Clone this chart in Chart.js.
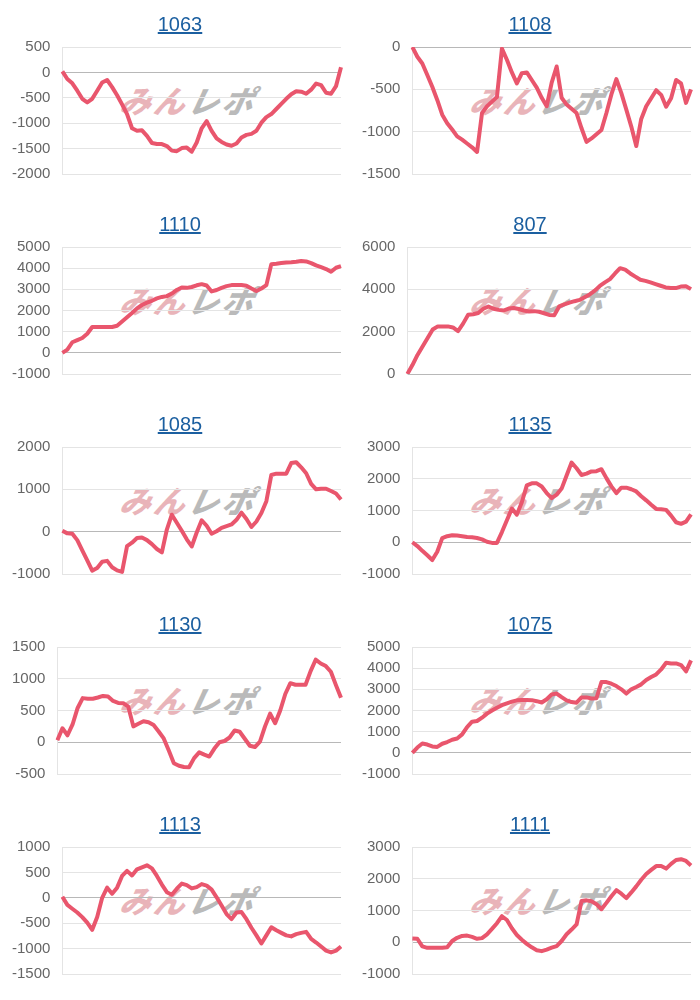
<!DOCTYPE html>
<html>
<head>
<meta charset="utf-8">
<script src="https://cdn.jsdelivr.net/npm/chart.js@4"></script>
<style>
    body { margin: 0; background: #fff; font-family: "Liberation Sans", Arial, sans-serif; }
    #grid { width: 700px; display: grid; grid-template-columns: 350px 350px; }
    .cell { position: relative; width: 350px; height: 200px; }
    .ttl {
        position: absolute; top: 13px; left: 5px; width: 350px; text-align: center; z-index: 2;
        font-size: 20px; line-height: 23px; color: #1b5fa0; text-decoration: underline;
    }
    .wm {
        position: absolute; left: 121px; top: 82px; white-space: nowrap;
        font-family: "Noto Sans CJK JP", sans-serif; font-weight: 900; font-style: italic;
        font-size: 31px; letter-spacing: 3px; line-height: 36px;
        transform: skewX(-12deg);
    }
    .wm .p { color: #e9b4b9; }
    .wm .g { color: #bababa; }
    .box { position: absolute; left: 0; top: 26px; width: 350px; height: 169px; }
</style>
</head>
<body>
<div id="grid"></div>

<script>
let titles = ["1063", "1108", "1110", "807", "1085", "1135", "1130", "1075", "1113", "1111"];
let yMin = [-2000, -1500, -1000, 0, -1000, -1000, -500, -1000, -1500, -1000];
let yMax = [500, 0, 5000, 6000, 2000, 3000, 1500, 5000, 1000, 3000];
let yStep = [500, 500, 1000, 2000, 1000, 1000, 500, 1000, 500, 1000];

let s1063 = [20, -130, -215, -360, -520, -590, -520, -360, -200, -150, -290, -450, -630, -820, -1100, -1150, -1140, -1250, -1390, -1410,
    -1410, -1450, -1540, -1550, -1490, -1480, -1560, -1380, -1100, -960, -1150, -1300, -1370, -1420, -1445, -1400, -1280, -1230, -1210, -1150,
    -990, -880, -820, -720, -620, -520, -430, -370, -380, -420, -340, -220, -250, -400, -420, -270, 100];
let s1108 = [0, -115, -195, -330, -470, -625, -800, -900, -975, -1055, -1095, -1140, -1185, -1240, -780, -700, -645, -590, -20, -150,
    -300, -430, -310, -300, -390, -480, -600, -700, -420, -230, -600, -680, -730, -780, -960, -1120, -1080, -1030, -980, -780,
    -560, -380, -545, -740, -940, -1170, -850, -700, -605, -510, -565, -705, -605, -390, -430, -660, -500];
let s1110 = [0, 150, 500, 600, 700, 900, 1220, 1220, 1220, 1220, 1220, 1280, 1480, 1680, 1880, 2100, 2260, 2370, 2460, 2570,
    2640, 2680, 2800, 2970, 3090, 3070, 3110, 3190, 3245, 3180, 2900, 2970, 3070, 3150, 3200, 3200, 3200, 3170, 3040, 2920,
    3040, 3200, 4190, 4210, 4240, 4270, 4280, 4300, 4340, 4320, 4240, 4130, 4050, 3960, 3830, 4020, 4100];
let s807 = [0, 420, 900, 1300, 1700, 2100, 2250, 2250, 2250, 2200, 2030, 2380, 2800, 2820, 2880, 3080, 3190, 3080, 3030, 3000,
    3090, 3120, 3070, 3000, 2950, 2970, 2940, 2870, 2790, 2780, 3200, 3290, 3370, 3440, 3500, 3630, 3760, 3940, 4160, 4330,
    4480, 4750, 5000, 4930, 4750, 4600, 4450, 4400, 4330, 4250, 4170, 4090, 4060, 4060, 4130, 4150, 4010];
let s1085 = [20, -40, -50, -200, -440, -680, -920, -860, -710, -690, -840, -915, -950, -340, -260, -150, -140, -200, -295, -410,
    -490, 50, 400, 210, 20, -180, -350, -20, 270, 140, -50, 10, 90, 130, 170, 280, 450, 300, 110, 240,
    440, 720, 1340, 1370, 1370, 1370, 1620, 1640, 1520, 1380, 1130, 1000, 1015, 1015, 960, 900, 760];
let s1135 = [0, -120, -270, -410, -560, -300, 130, 190, 220, 210, 190, 165, 155, 135, 90, 15, -20, -20, 320, 690,
    1060, 870, 1260, 1790, 1855, 1855, 1755, 1550, 1390, 1500, 1690, 2100, 2510, 2330, 2120, 2160, 2230, 2240, 2300, 2020,
    1760, 1550, 1720, 1720, 1670, 1600, 1450, 1320, 1180, 1050, 1040, 1020, 840, 630, 580, 650, 880];
let s1130 = [30, 220, 110, 280, 540, 695, 685, 685, 705, 730, 720, 650, 620, 615, 560, 250, 290, 330, 315, 270,
    170, 60, -130, -330, -370, -390, -395, -250, -160, -195, -225, -100, 0, 20, 75, 185, 165, 55, -55, -75,
    10, 250, 450, 300, 500, 760, 930, 905, 905, 905, 1120, 1300, 1240, 1200, 1110, 900, 700];
let s1075 = [0, 250, 440, 390, 300, 280, 430, 510, 620, 680, 870, 1220, 1470, 1505, 1660, 1850, 2000, 2130, 2250, 2340,
    2420, 2480, 2495, 2495, 2490, 2440, 2380, 2530, 2760, 2800, 2630, 2480, 2400, 2370, 2620, 2620, 2570, 2580, 3345, 3345,
    3265, 3155, 3000, 2800, 3000, 3110, 3235, 3440, 3580, 3705, 3940, 4255, 4225, 4225, 4145, 3850, 4370];
let s1113 = [20, -140, -215, -290, -380, -490, -630, -380, 0, 200, 80, 200, 430, 530, 440, 560, 600, 640, 580, 430,
    260, 110, 60, 180, 280, 250, 185, 210, 270, 240, 160, 10, -150, -320, -420, -290, -280, -420, -590, -740,
    -900, -740, -580, -640, -690, -740, -760, -715, -690, -670, -810, -880, -960, -1040, -1075, -1040, -960];
let s1111 = [120, 110, -130, -175, -175, -175, -175, -160, 40, 140, 200, 210, 170, 110, 130, 250, 420, 600, 820, 700,
    440, 230, 80, -50, -160, -250, -280, -230, -170, -120, 40, 250, 400, 560, 1300, 1320, 1290, 1200, 1040, 1240,
    1450, 1640, 1530, 1390, 1570, 1760, 1970, 2150, 2280, 2400, 2400, 2320, 2470, 2590, 2615, 2560, 2420];

let series = [s1063, s1108, s1110, s807, s1085, s1135, s1130, s1075, s1113, s1111];

let grid = document.getElementById("grid");

titles.forEach((t, i) => {
    let cell = document.createElement("div");
    cell.className = "cell";
    cell.innerHTML = `<a class="ttl" href="#">${t}</a>
        <div class="wm"><span class="p">みん</span><span class="g">レポ</span></div>
        <div class="box"><canvas></canvas></div>`;
    grid.appendChild(cell);

    let data = series[i];
    new Chart(cell.querySelector("canvas"), {
        type: "line",
        data: {
            labels: data.map((v, k) => k + 1),
            datasets: [{
                data: data,
                borderColor: "#e9566d",
                borderWidth: 4,
                borderJoinStyle: "round",
                pointRadius: 0,
                tension: 0,
                fill: false
            }]
        },
        options: {
            responsive: true,
            maintainAspectRatio: false,
            animation: false,
            layout: { padding: { left: 0, right: 9 } },
            plugins: { legend: { display: false }, tooltip: { enabled: false } },
            scales: {
                x: { display: false },
                y: {
                    min: yMin[i],
                    max: yMax[i],
                    ticks: {
                        stepSize: yStep[i],
                        color: "#666",
                        padding: 12,
                        font: { size: 15, family: "'Liberation Sans', Arial" },
                        callback: v => String(v)
                    },
                    grid: {
                        drawTicks: false,
                        color: ctx => (ctx.tick && ctx.tick.value === 0) ? "#b8b8b8" : "#e4e4e4"
                    },
                    border: { color: "#e4e4e4" }
                }
            }
        }
    });
});
</script>
</body>
</html>
